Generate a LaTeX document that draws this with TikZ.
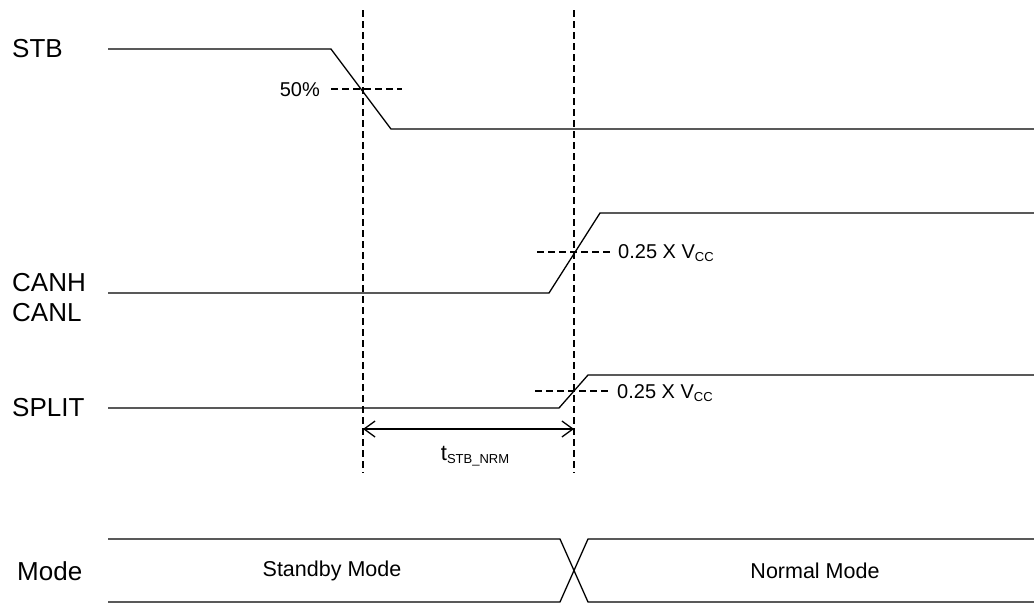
\documentclass[tikz,border=0pt]{standalone}
\usepackage{fontspec}
\setmainfont{Liberation Sans}
\usetikzlibrary{arrows.meta}
\newcommand{\bigtxt}{\fontsize{26}{30}\selectfont}
\newcommand{\midtxt}{\fontsize{20}{23}\selectfont}
\newcommand{\modetxt}{\fontsize{21.5}{25}\selectfont}
\newcommand{\subtxt}[1]{\raisebox{-3.5pt}{\fontsize{13}{13}\selectfont #1}}
\tikzset{
  sig/.style={line width=1.3pt, line join=miter},
  guide/.style={line width=1.3pt, dash pattern=on 7pt off 4pt},
  lbl/.style={anchor=west, inner sep=0pt, font=\bigtxt},
  small/.style={inner sep=0pt, font=\midtxt},
  dim/.style={line width=1.3pt, {Straight Barb[length=11pt,width=16pt]}-{Straight Barb[length=11pt,width=16pt]}}
}
\begin{document}
\begin{tikzpicture}[x=1pt,y=-1pt]
\useasboundingbox (0,0) rectangle (1034,606);
% labels
\node[lbl] (stb) at (12,49) {STB};
\node[lbl] (canh) at (12,283) {CANH};
\node[lbl] (canl) at (12,313) {CANL};
\node[lbl] (split) at (12,408) {SPLIT};
\node[lbl] (mode) at (17,571) {Mode};
% signals
\draw[sig] (108,49) -- (331,49) -- (391,129) -- (1034,129);
\draw[sig] (108,293) -- (549,293) -- (600,213) -- (1034,213);
\draw[sig] (108,408) -- (559,408) -- (588,375) -- (1034,375);
% guides
\coordinate (v1t) at (363,10); \coordinate (v1b) at (363,473);
\coordinate (v2t) at (574,10); \coordinate (v2b) at (574,473);
\draw[guide] (v1t) -- (v1b);
\draw[guide] (v2t) -- (v2b);
\draw[guide] (331,89) -- (402,89);
\draw[guide] (537,252) -- (610,252);
\draw[guide] (535,391) -- (608,391);
\node[small, anchor=east] (p50) at (320,90) {50\%};
\node[small, anchor=west] (th1) at (618,253) {0.25 X V\subtxt{CC}};
\node[small, anchor=west] (th2) at (617,393) {0.25 X V\subtxt{CC}};
% dimension
\coordinate (a1) at (363,429); \coordinate (a2) at (574,429);
\draw[dim] (a1) -- (a2);
\node[inner sep=0pt, anchor=base, font=\fontsize{22}{24}\selectfont] (tsn) at (475,460) {t\subtxt{STB\_NRM}};
% mode bus
\draw[sig] (108,539) -- (560,539) -- (588,602) -- (1034,602);
\draw[sig] (108,602) -- (560,602) -- (588,539) -- (1034,539);
\node[inner sep=0pt, font=\modetxt] (sm) at (332,571) {Standby Mode};
\node[inner sep=0pt, font=\modetxt] (nm) at (815,571) {Normal Mode};
\end{tikzpicture}
\end{document}
